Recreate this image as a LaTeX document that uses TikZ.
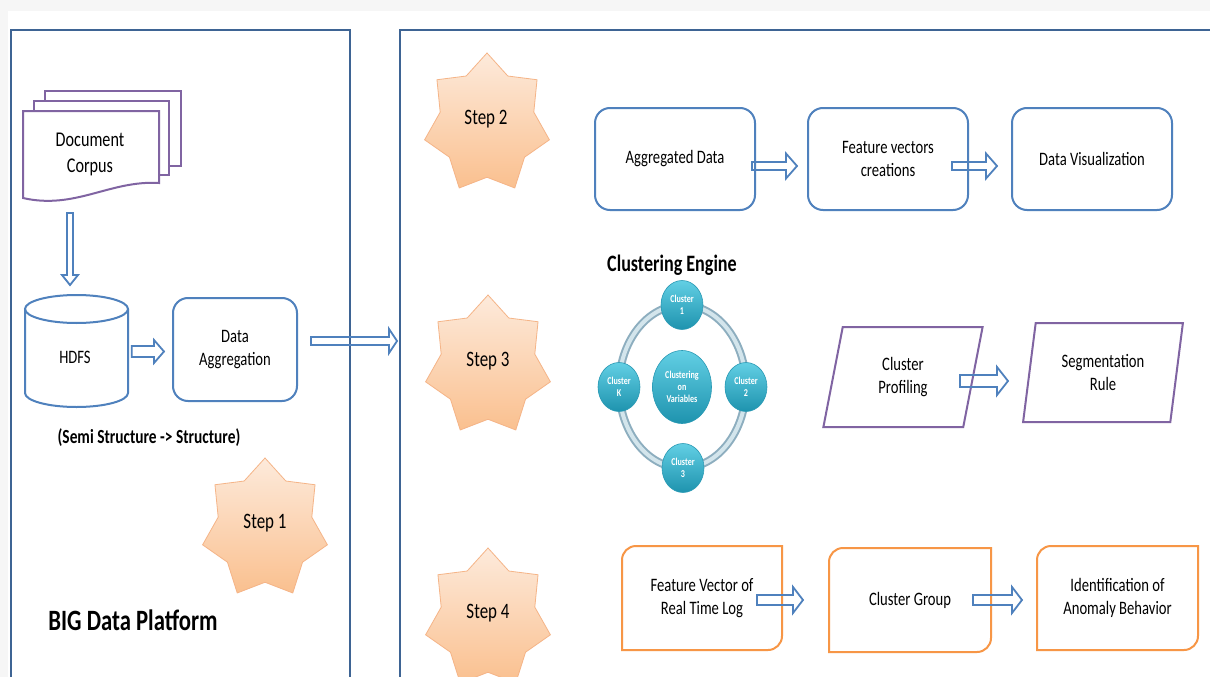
\documentclass[tikz,border=0pt]{standalone}
\usepackage{fontspec}
\setmainfont{Carlito}[FakeStretch=0.77]
\usetikzlibrary{calc,shapes.geometric}

\definecolor{panelblue}{HTML}{3E6494}
\definecolor{boxblue}{HTML}{4F81BD}
\definecolor{docpurple}{HTML}{8064A2}
\definecolor{boxorange}{HTML}{F79646}
\definecolor{startop}{HTML}{FDEADB}
\definecolor{starbot}{HTML}{FAC08F}
\definecolor{staredge}{HTML}{F5B487}
\definecolor{tealtop}{HTML}{62CFE4}
\definecolor{tealbot}{HTML}{1E93AE}
\definecolor{tealedge}{HTML}{2A9AB5}
\definecolor{ringdark}{HTML}{8DAEBF}
\definecolor{ringlight}{HTML}{D3E5EC}

\newcommand{\boxfont}{\fontsize{19}{23}\selectfont}

\tikzset{
  panel/.style={draw=panelblue, line width=2.5pt},
  docline/.style={draw=docpurple, line width=2pt, fill=white},
  blueline/.style={draw=boxblue, line width=2pt},
  bluebox/.style={blueline, rounded corners=15pt, minimum width=160, minimum height=102, align=center, font=\boxfont},
  purplebox/.style={draw=docpurple, line width=2pt, trapezium, trapezium left angle=79, trapezium right angle=101,
    trapezium stretches=true, minimum width=160, minimum height=100, align=center, font=\boxfont},
  orangebox/.style={minimum width=160, minimum height=104, inner sep=0pt, outer sep=0pt, align=center, font=\boxfont},
  orangeline/.style={draw=boxorange, line width=2pt},
  blockarrow/.style={draw=boxblue, line width=1.8pt, line join=miter},
  stepstar/.style={draw=staredge, line width=0.8pt, top color=startop, bottom color=starbot},
  starlabel/.style={font=\fontsize{22}{25}\selectfont},
  clusterball/.style={ellipse, draw=tealedge, line width=0.6pt, top color=tealtop, bottom color=tealbot,
    minimum width=42, minimum height=49, inner sep=0pt, align=center, text=white, font=\bfseries\fontsize{10.5}{12}\selectfont},
}

% hollow block arrow: from, to, half shaft, half head, head length
\newcommand{\fatarrow}[5]{%
  \coordinate (fahead) at ($(#2)!#5pt!(#1)$);
  \draw[blockarrow] ($(#1)!#3pt!90:(#2)$) -- ($(fahead)!#3pt!90:(#2)$) -- ($(fahead)!#4pt!90:(#2)$)
    -- (#2) -- ($(fahead)!#4pt!-90:(#2)$) -- ($(fahead)!#3pt!-90:(#2)$) -- ($(#1)!#3pt!-90:(#2)$) -- cycle;
}
% seven point star: centre x, centre y
\newcommand{\sevenstar}[2]{%
  \draw[stepstar] (#1,#2-71) \foreach \k [evaluate=\k as \rr using {1-0.25*mod(\k,2)}] in {1,...,13} {
    -- ({#1+64*\rr*cos(90+\k*180/7)}, {#2-71*\rr*sin(90+\k*180/7)})} -- cycle;
}
% box with round top-left and bottom-right corners
\newcommand{\cornerbox}[1]{%
  \draw[orangeline] (#1.north) -- (#1.north east) -- (#1.east) [rounded corners=14pt] -- (#1.south east) -- (#1.south)
    [sharp corners] -- (#1.south west) -- (#1.west) [rounded corners=14pt] -- (#1.north west) -- cycle;
}

\begin{document}
\begin{tikzpicture}[x=1pt,y=-1pt]
\useasboundingbox (0,0) rectangle (1210,677);
\clip (0,0) rectangle (1210,677);
\fill[gray!7] (0,0) rectangle (1210,677); % page shadow
\fill[white] (8,11) rectangle (1210,677);

% the two panels
\draw[panel] (11,700) -- (11,30) -- (350,30) -- (350,700);
\draw[panel] (400,700) -- (400,30) -- (1230,30);

% document corpus
\draw[docline] (45,91) rectangle (181,166);
\draw[docline] (34,101) rectangle (169,175);
\draw[docline] (23,198) -- (23,111) -- (159,111) -- (159,183) .. controls (110,180) and (75,210) .. (23,198) -- cycle;
\node[align=center, font=\fontsize{21}{26}\selectfont] (corpus) at (90,154) {Document\\Corpus};

% HDFS store
\draw[blueline] (25,309) -- (25,393) arc[start angle=180, end angle=360, x radius=51.5pt, y radius=14pt] -- (128,309);
\draw[blueline] (76.5,309) ellipse[x radius=51.5pt, y radius=14pt];
\node[font=\boxfont, minimum width=103] (hdfs) at (75,357) {HDFS};

\node[bluebox, minimum width=124, minimum height=103] (agg) at (235,349.5) {Data\\Aggregation};

\coordinate (docfoot) at (70,213);
\coordinate (hdfstop) at (70,285);
\fatarrow{docfoot}{hdfstop}{3}{8}{10}
\coordinate (h1) at ($(hdfs.east)+(5,-5.5)$);
\coordinate (h2) at ($(agg.west)+(-8,2)$);
\fatarrow{h1}{h2}{5.5}{11.5}{10}
\coordinate (g1) at ($(agg.east)+(13,-8.5)$);
\coordinate (gate) at (397,341);
\fatarrow{g1}{gate}{4}{12}{8}

\node[font=\bfseries\fontsize{20}{23}\selectfont] (semi) at (149,438) {(Semi Structure -> Structure)};
\sevenstar{265}{529}
\node[starlabel] (step1) at (265,523) {Step 1};
\node[font=\bfseries\fontsize{29.5}{33}\selectfont] (platform) at (133,620) {BIG Data Platform};

% step 2
\sevenstar{487}{124}
\node[starlabel] (step2) at (486,119) {Step 2};
\node[bluebox] (aggd) at (675,159) {Aggregated Data};
\node[bluebox] (feat) at (888,159) {Feature vectors\\creations};
\node[bluebox] (vis) at (1092,159) {Data Visualization};
\coordinate (a1) at ($(aggd.east)+(-4,7)$);
\coordinate (a2) at ($(feat.west)+(-10,7)$);
\fatarrow{a1}{a2}{4}{12.5}{11}
\coordinate (a3) at ($(feat.east)+(-17,7)$);
\coordinate (a4) at ($(vis.west)+(-14,7)$);
\fatarrow{a3}{a4}{4}{12.5}{11}

% step 3
\sevenstar{488}{366}
\node[starlabel] (step3) at (488,361) {Step 3};
\node[font=\bfseries\fontsize{23.5}{27}\selectfont] (engine) at (672,265) {Clustering Engine};
\draw[ringdark, line width=8pt] (682.5,386.5) ellipse[x radius=63.5pt, y radius=81.5pt];
\draw[ringlight, line width=4pt] (682.5,386.5) ellipse[x radius=63.5pt, y radius=81.5pt];
\node[clusterball] (c1) at (682,305) {Cluster\\1};
\node[clusterball] (c2) at (746,387) {Cluster\\2};
\node[clusterball] (c3) at (683,468) {Cluster\\3};
\node[clusterball] (ck) at (619,387) {Cluster\\K};
\node[clusterball, minimum width=59, minimum height=73] (cc) at (682,387) {Clustering\\on\\Variables};

\node[purplebox] (prof) at (903,377) {Cluster\\Profiling};
\node[purplebox, minimum height=99] (seg) at (1103,372.5) {Segmentation\\Rule};
\coordinate (p1) at ($(prof.center)+(57,4)$);
\coordinate (p2) at ($(seg.center)+(-95,8.5)$);
\fatarrow{p1}{p2}{6}{14}{11}

% step 4
\sevenstar{488}{619}
\node[starlabel] (step4) at (488,613) {Step 4};
\node[orangebox] (fvec) at (702,598) {Feature Vector of\\Real Time Log};
\node[orangebox, minimum width=162] (cgrp) at (910,600) {Cluster Group};
\node[orangebox, minimum width=161] (anom) at (1117.5,598) {Identification of\\Anomaly Behavior};
\cornerbox{fvec}
\cornerbox{cgrp}
\cornerbox{anom}
\coordinate (f1) at ($(fvec.east)+(-25,2)$);
\coordinate (f2) at ($(cgrp.west)+(-26,0)$);
\fatarrow{f1}{f2}{5}{13}{10}
\coordinate (f3) at ($(cgrp.east)+(-18,0)$);
\coordinate (f4) at ($(anom.west)+(-15,2)$);
\fatarrow{f3}{f4}{5}{13}{10}
\end{tikzpicture}
\end{document}
